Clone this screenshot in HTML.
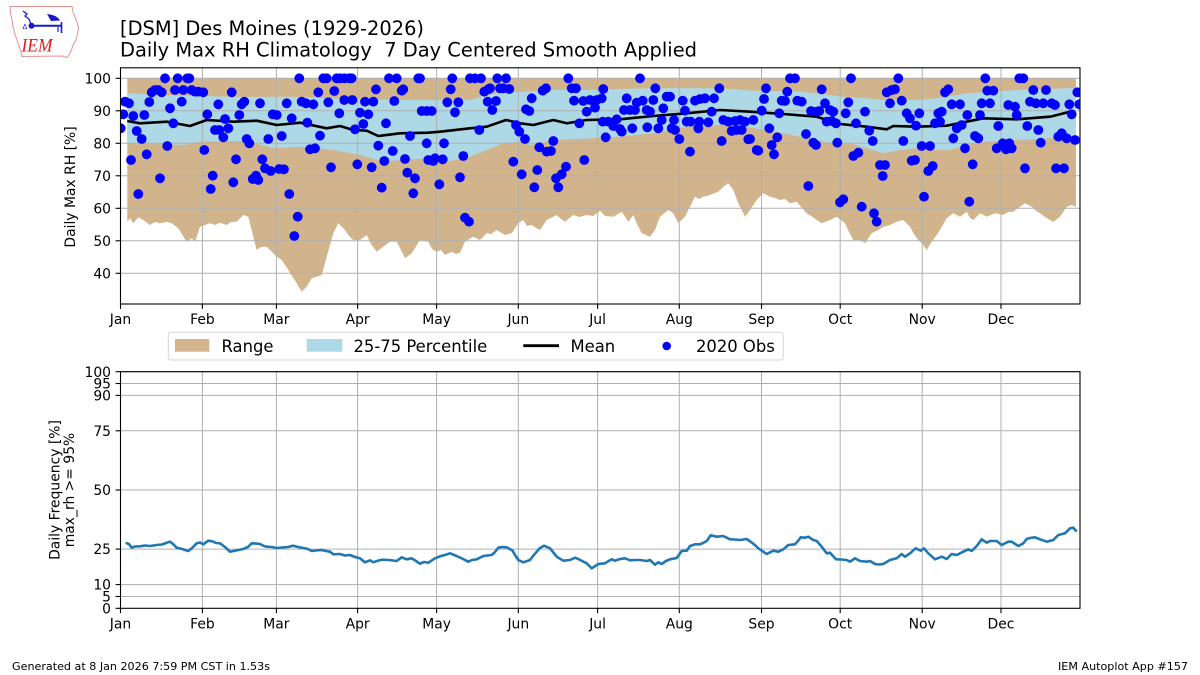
<!DOCTYPE html>
<html><head><meta charset="utf-8"><style>
html,body{margin:0;padding:0;background:#fff;}
svg{display:block;}
text{font-family:"DejaVu Sans","Liberation Sans",sans-serif;fill:#000;}
</style></head><body>
<svg width="1200" height="675" viewBox="0 0 1200 675" xmlns="http://www.w3.org/2000/svg">
<defs>
<clipPath id="c1"><rect x="120.5" y="67.8" width="959.5" height="236.2"/></clipPath>
<clipPath id="c2"><rect x="120.5" y="371.7" width="959.5" height="236.6"/></clipPath>
</defs>
<rect width="1200" height="675" fill="#fff"/>

<!-- logo -->
<g>
<path d="M10,6.5 L72,6.5 L73,12 L75,17 L77,22 L78.5,28 L77.5,34 L76,40 L73,45 L71.5,50 L69,55 L67,57.5 L62,56 L22,56.5 L21,52 L19,46 L17,40 L15,34 L13,27 L12,20 L10.5,13 Z" fill="none" stroke="#e89090" stroke-width="1"/>
<line x1="31.5" y1="25.7" x2="62" y2="25.7" stroke="#1a1acc" stroke-width="2"/>
<circle cx="31.5" cy="25.7" r="3" fill="#1a1acc"/>
<path d="M23,11 L27,14 L25,16 L29,19 L31.5,25.7" fill="none" stroke="#1a1acc" stroke-width="1.3"/>
<path d="M47,14 Q57,15 60,20.5 L51,21 Z" fill="#1a1acc"/>
<line x1="61.5" y1="22" x2="61.5" y2="33" stroke="#1a1acc" stroke-width="1.6"/>
<line x1="58" y1="27" x2="58" y2="32" stroke="#1a1acc" stroke-width="1.2"/>
<text x="22.5" y="29" font-size="7" style="fill:#1a1acc">ᐃ</text>
<text x="21.5" y="51.5" font-size="19" font-style="italic" style="font-family:'Liberation Serif',serif;fill:#d42020" textLength="31" lengthAdjust="spacingAndGlyphs">IEM</text>
</g>

<!-- titles -->
<text x="120" y="35" font-size="19.4" textLength="304" lengthAdjust="spacingAndGlyphs">[DSM] Des Moines (1929-2026)</text>
<text x="120" y="56.7" font-size="19.4" xml:space="preserve" textLength="577" lengthAdjust="spacingAndGlyphs">Daily Max RH Climatology  7 Day Centered Smooth Applied</text>

<!-- ===== TOP AXES ===== -->
<g clip-path="url(#c1)">
<path fill="#d2b48c" d="M127.3,78.3 L127.3,221.7 L130,218.3 L133.3,223.3 L138.3,217.3 L143.3,220 L150,225 L155,222 L160,223.3 L166.7,221.7 L171.7,223.3 L178.3,228.3 L183,236 L186.7,241.7 L191.7,238.3 L195,241.7 L200,226.7 L205,225 L210,223.3 L215,225 L220,222.7 L226.7,225 L231,222 L236.7,221.7 L243.3,215 L248.3,216.7 L253.3,236.7 L256.7,250 L261,247 L266.7,246.7 L271,251 L276.7,256.7 L281.7,260 L288.3,270 L292,276 L296.7,283.3 L301.7,291.7 L306.7,286.7 L311.7,278.3 L316,277 L321.7,275 L326.7,256.7 L333.3,233.3 L338.3,223.3 L345,230 L349,236 L353.3,240 L360,240 L366.7,235 L371,244 L376.7,251.7 L383.3,246.7 L390,241.7 L396.7,241.7 L401,250 L405,258.3 L411.7,253.3 L420,240 L428.3,241.7 L432,249 L436.7,251.7 L441,250 L445,255 L451.7,251.7 L456,254 L460,252.7 L465,241.7 L473.3,236.7 L480,240 L486.7,233.3 L491,234 L496.7,230 L505,235 L511.7,233.3 L518.3,223.3 L523.3,220 L527,226 L531.7,225 L536,228 L540,230 L546.7,220 L551,218 L556.7,215 L561,219 L565,221.7 L573.3,215 L579,217 L586.7,215 L593.3,216 L600,210.7 L605,216 L613.3,216.7 L621.7,211.7 L628.3,221.7 L633.3,215 L637,224 L641.7,233.3 L650,236.7 L655,230 L660,216.7 L668.3,210 L673.3,213.3 L678.3,223.3 L685,216.7 L690,206.7 L695,196.7 L699,199 L703.3,196.7 L710,195 L718.3,191.7 L723.3,186.7 L728.3,183.3 L733.3,190 L738.3,203.3 L745,216.7 L750,210 L756.7,200 L763.3,193.3 L770,196.7 L775,198 L780,200 L785,199 L790,203.3 L796.7,201.7 L801,207 L806.7,213.3 L811,216 L816.7,220 L821.7,223.3 L830,220 L836.7,216.7 L845,223.3 L849,232 L853.3,240 L860,240 L865,243.3 L871.7,233.3 L878.3,230 L883.3,226.7 L890,225 L896.7,221.7 L903.3,220 L910,226.7 L914,234 L918.3,240 L923.3,245 L926.7,250 L931.7,241.7 L936,236 L940,230 L946.7,218.3 L953.3,213.3 L960,216.7 L966.7,211.7 L970,218 L973.3,220 L980,213.3 L986.7,216.7 L995,213.3 L1003.3,215 L1008,212 L1013.3,211.7 L1020,206.7 L1025,203.3 L1031.7,206.7 L1036,211 L1040,213.3 L1046.7,218.3 L1053.3,221.7 L1060,216.7 L1066.7,206.7 L1071.7,205 L1076,206.7 L1076,78.3 Z"/>
<path fill="#add8e6" d="M127.3,93.3 L140,94 L160,95 L200,96 L240,97 L276.7,96.7 L300,97 L333,98.3 L357,99 L400,100 L420,100 L470,100 L486.7,95 L500,93 L520,91.7 L540,91 L553,90 L587,90 L620,89 L653,88.3 L720,88.3 L750,90.5 L800,91.7 L816.7,93.3 L843.3,96.7 L870,98.5 L883,100 L916.7,100 L936.7,98.3 L966.7,93.3 L1016.7,90 L1066.7,88.3 L1076,88.3 L1076,136.7 L1050,138.3 L1016.7,140 L983.3,141.7 L966.7,145 L950,150 L940,150 L916.7,148.3 L900,150 L883.3,153.3 L866.7,148.3 L850,143.3 L836.7,145 L816.7,140 L783.3,133.3 L750,127.5 L720,125 L686.7,126.7 L653.3,133.3 L620,136.7 L593.3,138.3 L570,139.3 L553.3,140 L530,145 L520,141.7 L503.3,143.3 L470,156.7 L440,163.3 L428.3,158.3 L400,160 L383.3,161.7 L360,155 L333.3,150 L300,146.7 L273.3,148.3 L250,141.7 L233.3,141 L200,141.7 L183.3,145 L150,143.3 L127.3,143.3 Z"/>
</g>
<!-- grid top -->
<g stroke="#b0b0b0" stroke-width="1">
<line x1="120.5" y1="78.3" x2="1080" y2="78.3"/>
<line x1="120.5" y1="110.8" x2="1080" y2="110.8"/>
<line x1="120.5" y1="143.3" x2="1080" y2="143.3"/>
<line x1="120.5" y1="175.8" x2="1080" y2="175.8"/>
<line x1="120.5" y1="208.3" x2="1080" y2="208.3"/>
<line x1="120.5" y1="240.8" x2="1080" y2="240.8"/>
<line x1="120.5" y1="273.3" x2="1080" y2="273.3"/>
<line x1="202.4" y1="67.8" x2="202.4" y2="304"/>
<line x1="276.4" y1="67.8" x2="276.4" y2="304"/>
<line x1="357.6" y1="67.8" x2="357.6" y2="304"/>
<line x1="436.6" y1="67.8" x2="436.6" y2="304"/>
<line x1="518.3" y1="67.8" x2="518.3" y2="304"/>
<line x1="597.6" y1="67.8" x2="597.6" y2="304"/>
<line x1="679.3" y1="67.8" x2="679.3" y2="304"/>
<line x1="761.5" y1="67.8" x2="761.5" y2="304"/>
<line x1="840.2" y1="67.8" x2="840.2" y2="304"/>
<line x1="922.2" y1="67.8" x2="922.2" y2="304"/>
<line x1="1001" y1="67.8" x2="1001" y2="304"/>
</g>
<g clip-path="url(#c1)">
<polyline fill="none" stroke="#000" stroke-width="2.6" stroke-linejoin="round" points="127.3,121 140,123.3 166.7,121.7 190,126 206.7,120 233.3,121.7 256.7,120.7 276.7,125 300,122.7 326.7,128.3 340,126 353.3,130 366.7,130.7 378.3,136 400,133.3 428.3,132.7 440,131.7 470,128.3 486.7,126.7 506,120 520,123.3 533.3,125 553.3,120 566.7,123.3 586.7,120 620,119.3 653.3,116 686.7,113.3 720,110 750,111.7 783.3,114 816.7,116.7 840,124 866.7,126.7 886.7,129.3 893.3,126 916.7,126.7 946.7,125.7 983.3,118.3 1016.7,119.3 1050,116.7 1070,111.7 1075,114.3"/>
<g fill="#0000ff">
<circle cx="120.7" cy="128.3" r="4.9"/><circle cx="123.3" cy="114.3" r="4.9"/><circle cx="125" cy="101.7" r="4.9"/><circle cx="129" cy="103.3" r="4.9"/>
<circle cx="131" cy="160" r="4.9"/><circle cx="133.3" cy="116" r="4.9"/><circle cx="136.7" cy="131" r="4.9"/><circle cx="138.3" cy="194" r="4.9"/><circle cx="141.7" cy="139" r="4.9"/><circle cx="144.3" cy="115" r="4.9"/><circle cx="146.7" cy="154.3" r="4.9"/><circle cx="149.3" cy="102" r="4.9"/><circle cx="151.7" cy="92.3" r="4.9"/><circle cx="155" cy="90" r="4.9"/><circle cx="158.3" cy="90" r="4.9"/><circle cx="161.7" cy="92.3" r="4.9"/><circle cx="160" cy="178.3" r="4.9"/><circle cx="165" cy="78.3" r="4.9"/><circle cx="167.3" cy="146" r="4.9"/><circle cx="170" cy="108.3" r="4.9"/><circle cx="173.3" cy="123.3" r="4.9"/><circle cx="175" cy="90" r="4.9"/><circle cx="177.7" cy="78.3" r="4.9"/><circle cx="183.3" cy="90" r="4.9"/><circle cx="181.7" cy="101.7" r="4.9"/><circle cx="187.3" cy="78.3" r="4.9"/><circle cx="189.3" cy="78.3" r="4.9"/><circle cx="191.7" cy="90" r="4.9"/><circle cx="195" cy="91.7" r="4.9"/><circle cx="198.3" cy="91.7" r="4.9"/><circle cx="203.3" cy="92.3" r="4.9"/><circle cx="204.3" cy="150" r="4.9"/><circle cx="207.3" cy="114.3" r="4.9"/><circle cx="210.7" cy="189" r="4.9"/><circle cx="212.7" cy="175.7" r="4.9"/><circle cx="215" cy="130" r="4.9"/><circle cx="219.3" cy="130" r="4.9"/><circle cx="218.3" cy="104.3" r="4.9"/><circle cx="223.3" cy="137.3" r="4.9"/><circle cx="225" cy="119" r="4.9"/><circle cx="228.3" cy="128.3" r="4.9"/><circle cx="231.7" cy="92.3" r="4.9"/><circle cx="233.3" cy="182.3" r="4.9"/><circle cx="236" cy="159.3" r="4.9"/><circle cx="239.3" cy="115" r="4.9"/><circle cx="241.7" cy="104.3" r="4.9"/><circle cx="244.3" cy="101.7" r="4.9"/><circle cx="246.7" cy="139" r="4.9"/><circle cx="249.3" cy="143.3" r="4.9"/><circle cx="252.7" cy="179" r="4.9"/><circle cx="256" cy="175.7" r="4.9"/><circle cx="258.3" cy="180" r="4.9"/><circle cx="260" cy="103.3" r="4.9"/><circle cx="262.3" cy="159.3" r="4.9"/><circle cx="265" cy="168.3" r="4.9"/><circle cx="270.7" cy="171" r="4.9"/><circle cx="268.3" cy="139" r="4.9"/><circle cx="272.7" cy="114.3" r="4.9"/><circle cx="276.7" cy="115" r="4.9"/><circle cx="279.3" cy="169" r="4.9"/><circle cx="284" cy="169.3" r="4.9"/><circle cx="281.7" cy="136" r="4.9"/><circle cx="286.7" cy="103.3" r="4.9"/><circle cx="289.3" cy="194" r="4.9"/><circle cx="291.7" cy="118.3" r="4.9"/><circle cx="297.7" cy="216.7" r="4.9"/><circle cx="294.3" cy="236" r="4.9"/><circle cx="299.3" cy="78.3" r="4.9"/><circle cx="301.7" cy="101.7" r="4.9"/><circle cx="306" cy="103.3" r="4.9"/><circle cx="307.3" cy="122.7" r="4.9"/><circle cx="310" cy="149.3" r="4.9"/><circle cx="315" cy="148.3" r="4.9"/><circle cx="313.3" cy="104.3" r="4.9"/><circle cx="318.3" cy="92.3" r="4.9"/><circle cx="320" cy="135.7" r="4.9"/><circle cx="323.3" cy="78.3" r="4.9"/><circle cx="326.7" cy="78.3" r="4.9"/><circle cx="328.3" cy="102.3" r="4.9"/><circle cx="331" cy="167.3" r="4.9"/><circle cx="334.3" cy="91" r="4.9"/><circle cx="336.7" cy="78.3" r="4.9"/><circle cx="340" cy="78.3" r="4.9"/><circle cx="344.3" cy="78.3" r="4.9"/><circle cx="349.3" cy="78.3" r="4.9"/><circle cx="351.7" cy="78.3" r="4.9"/><circle cx="339.3" cy="113.3" r="4.9"/><circle cx="344.3" cy="100" r="4.9"/><circle cx="352.3" cy="100" r="4.9"/><circle cx="355" cy="129.3" r="4.9"/><circle cx="357.3" cy="164.3" r="4.9"/><circle cx="360" cy="112.7" r="4.9"/><circle cx="368.3" cy="114.3" r="4.9"/><circle cx="363.3" cy="124" r="4.9"/><circle cx="365" cy="101.7" r="4.9"/><circle cx="373.3" cy="101.7" r="4.9"/><circle cx="371.7" cy="167.3" r="4.9"/><circle cx="376" cy="89.3" r="4.9"/><circle cx="378.3" cy="145.7" r="4.9"/><circle cx="381.7" cy="187.7" r="4.9"/><circle cx="384.3" cy="161" r="4.9"/><circle cx="386" cy="123.3" r="4.9"/><circle cx="389" cy="78.3" r="4.9"/><circle cx="396.7" cy="78.3" r="4.9"/><circle cx="392.7" cy="151" r="4.9"/><circle cx="394.3" cy="101" r="4.9"/><circle cx="401.7" cy="90.7" r="4.9"/><circle cx="403.3" cy="89.3" r="4.9"/><circle cx="405" cy="159" r="4.9"/><circle cx="407.3" cy="172.7" r="4.9"/><circle cx="415" cy="178.3" r="4.9"/><circle cx="410" cy="136" r="4.9"/><circle cx="413.3" cy="193.3" r="4.9"/><circle cx="418.3" cy="78.3" r="4.9"/><circle cx="421.7" cy="111" r="4.9"/><circle cx="426.7" cy="111" r="4.9"/><circle cx="426.7" cy="143.3" r="4.9"/><circle cx="428.3" cy="160" r="4.9"/>
<circle cx="420" cy="78.3" r="4.9"/><circle cx="431.7" cy="111" r="4.9"/><circle cx="433.3" cy="161" r="4.9"/><circle cx="435" cy="158.3" r="4.9"/><circle cx="442.7" cy="159.3" r="4.9"/><circle cx="439.3" cy="184.3" r="4.9"/><circle cx="444" cy="143.3" r="4.9"/><circle cx="447.3" cy="102.3" r="4.9"/><circle cx="458.3" cy="102.3" r="4.9"/><circle cx="450.7" cy="89.3" r="4.9"/><circle cx="452.3" cy="78.3" r="4.9"/><circle cx="455" cy="112.3" r="4.9"/><circle cx="460" cy="177.3" r="4.9"/><circle cx="463.3" cy="156" r="4.9"/><circle cx="465" cy="217.7" r="4.9"/><circle cx="469" cy="221.7" r="4.9"/><circle cx="470" cy="78.3" r="4.9"/><circle cx="475" cy="78.3" r="4.9"/><circle cx="481" cy="78.3" r="4.9"/><circle cx="479.3" cy="130" r="4.9"/><circle cx="484.3" cy="91.7" r="4.9"/><circle cx="488.3" cy="89.3" r="4.9"/><circle cx="490" cy="88.3" r="4.9"/><circle cx="487.7" cy="101.7" r="4.9"/><circle cx="496" cy="101" r="4.9"/><circle cx="492.3" cy="110" r="4.9"/><circle cx="497.3" cy="78.3" r="4.9"/><circle cx="506" cy="78.3" r="4.9"/><circle cx="500" cy="88.3" r="4.9"/><circle cx="503.3" cy="88.3" r="4.9"/><circle cx="509.3" cy="89" r="4.9"/><circle cx="513.3" cy="161.7" r="4.9"/><circle cx="516" cy="125" r="4.9"/><circle cx="519.3" cy="131.7" r="4.9"/><circle cx="521.7" cy="174.3" r="4.9"/><circle cx="525" cy="139" r="4.9"/><circle cx="526" cy="109.3" r="4.9"/><circle cx="529.3" cy="111" r="4.9"/><circle cx="531.7" cy="98.3" r="4.9"/><circle cx="534.3" cy="187.3" r="4.9"/><circle cx="537.3" cy="170" r="4.9"/><circle cx="539.3" cy="147.3" r="4.9"/><circle cx="542.7" cy="90.7" r="4.9"/><circle cx="546" cy="88.3" r="4.9"/><circle cx="546.7" cy="151.7" r="4.9"/><circle cx="551" cy="151" r="4.9"/><circle cx="553.3" cy="141" r="4.9"/><circle cx="556" cy="178.3" r="4.9"/><circle cx="558.3" cy="187.3" r="4.9"/><circle cx="561.7" cy="174.3" r="4.9"/><circle cx="566" cy="166.7" r="4.9"/><circle cx="568.3" cy="78.3" r="4.9"/><circle cx="571.7" cy="88.3" r="4.9"/><circle cx="576" cy="88.3" r="4.9"/><circle cx="574" cy="100.7" r="4.9"/><circle cx="583.3" cy="101" r="4.9"/><circle cx="590" cy="100" r="4.9"/><circle cx="596.7" cy="100" r="4.9"/><circle cx="601.7" cy="98.3" r="4.9"/><circle cx="579.3" cy="123.3" r="4.9"/><circle cx="584.3" cy="160" r="4.9"/><circle cx="586.7" cy="111.7" r="4.9"/><circle cx="595" cy="107.7" r="4.9"/><circle cx="603.3" cy="89" r="4.9"/><circle cx="602.7" cy="121.7" r="4.9"/><circle cx="608.3" cy="121.7" r="4.9"/><circle cx="605.7" cy="137.3" r="4.9"/><circle cx="613.3" cy="126" r="4.9"/><circle cx="620" cy="129" r="4.9"/><circle cx="621.7" cy="131.7" r="4.9"/><circle cx="616.7" cy="119.3" r="4.9"/><circle cx="624" cy="110" r="4.9"/><circle cx="630" cy="110" r="4.9"/><circle cx="635" cy="110" r="4.9"/><circle cx="626.7" cy="98.3" r="4.9"/><circle cx="632.3" cy="128.3" r="4.9"/><circle cx="636.7" cy="102.7" r="4.9"/><circle cx="642.7" cy="100.7" r="4.9"/><circle cx="640" cy="78.3" r="4.9"/><circle cx="646.7" cy="110" r="4.9"/><circle cx="650" cy="111.7" r="4.9"/><circle cx="647.3" cy="127.3" r="4.9"/><circle cx="653.3" cy="100" r="4.9"/><circle cx="655.3" cy="88.3" r="4.9"/><circle cx="658.3" cy="128.3" r="4.9"/><circle cx="661.7" cy="120" r="4.9"/><circle cx="663.3" cy="108.3" r="4.9"/><circle cx="666.7" cy="96.7" r="4.9"/><circle cx="670" cy="96.7" r="4.9"/><circle cx="671.7" cy="128.3" r="4.9"/><circle cx="675" cy="130" r="4.9"/><circle cx="674" cy="120" r="4.9"/><circle cx="679.3" cy="139" r="4.9"/><circle cx="682.7" cy="100.7" r="4.9"/><circle cx="685" cy="110.7" r="4.9"/><circle cx="686.7" cy="121.7" r="4.9"/><circle cx="690.7" cy="121.7" r="4.9"/><circle cx="690" cy="151.7" r="4.9"/><circle cx="695" cy="100.7" r="4.9"/><circle cx="700" cy="99" r="4.9"/><circle cx="705" cy="98.3" r="4.9"/><circle cx="714" cy="98.3" r="4.9"/><circle cx="698.3" cy="128.3" r="4.9"/><circle cx="699.3" cy="121.7" r="4.9"/><circle cx="708.3" cy="122.3" r="4.9"/><circle cx="711.7" cy="111.7" r="4.9"/><circle cx="719.3" cy="88.3" r="4.9"/><circle cx="721.7" cy="141" r="4.9"/><circle cx="723.3" cy="120" r="4.9"/><circle cx="728.3" cy="121.7" r="4.9"/><circle cx="731.7" cy="131" r="4.9"/><circle cx="736.7" cy="130" r="4.9"/><circle cx="741.7" cy="130" r="4.9"/><circle cx="735" cy="121" r="4.9"/><circle cx="740" cy="120" r="4.9"/><circle cx="745" cy="121.7" r="4.9"/><circle cx="748.3" cy="139.3" r="4.9"/>
<circle cx="750" cy="139" r="4.9"/><circle cx="753.3" cy="120" r="4.9"/><circle cx="756.7" cy="150" r="4.9"/><circle cx="758.3" cy="150.7" r="4.9"/><circle cx="761.7" cy="110.7" r="4.9"/><circle cx="764" cy="99" r="4.9"/><circle cx="766" cy="88.3" r="4.9"/><circle cx="769.3" cy="128.3" r="4.9"/><circle cx="771.7" cy="145" r="4.9"/><circle cx="774" cy="154.3" r="4.9"/><circle cx="777.3" cy="137.3" r="4.9"/><circle cx="779.3" cy="113.3" r="4.9"/><circle cx="781.7" cy="100.7" r="4.9"/><circle cx="785" cy="101" r="4.9"/><circle cx="787.3" cy="91.7" r="4.9"/><circle cx="790" cy="78.3" r="4.9"/><circle cx="795" cy="78.3" r="4.9"/><circle cx="797.3" cy="100.7" r="4.9"/><circle cx="801.7" cy="101.7" r="4.9"/><circle cx="806" cy="134" r="4.9"/><circle cx="808.3" cy="186" r="4.9"/><circle cx="811" cy="111" r="4.9"/><circle cx="816.7" cy="111.7" r="4.9"/><circle cx="819.3" cy="111" r="4.9"/><circle cx="813.3" cy="142.7" r="4.9"/><circle cx="816" cy="145" r="4.9"/><circle cx="821.7" cy="89.3" r="4.9"/><circle cx="825" cy="103.3" r="4.9"/><circle cx="826.7" cy="121.7" r="4.9"/><circle cx="831.7" cy="121" r="4.9"/><circle cx="830" cy="110" r="4.9"/><circle cx="833.3" cy="111.7" r="4.9"/><circle cx="836" cy="123.3" r="4.9"/><circle cx="837.3" cy="142.7" r="4.9"/><circle cx="840" cy="202.3" r="4.9"/><circle cx="843.3" cy="199.3" r="4.9"/><circle cx="845.7" cy="113.3" r="4.9"/><circle cx="848.3" cy="102.3" r="4.9"/><circle cx="851" cy="78.3" r="4.9"/><circle cx="853.3" cy="156" r="4.9"/><circle cx="858.3" cy="152.7" r="4.9"/><circle cx="856" cy="123.3" r="4.9"/><circle cx="861.7" cy="206.7" r="4.9"/><circle cx="865" cy="111.7" r="4.9"/><circle cx="869.3" cy="130.7" r="4.9"/><circle cx="872.7" cy="141" r="4.9"/><circle cx="874" cy="213.3" r="4.9"/><circle cx="876.7" cy="221.7" r="4.9"/><circle cx="880" cy="165" r="4.9"/><circle cx="885" cy="165" r="4.9"/><circle cx="882.7" cy="176" r="4.9"/><circle cx="886.7" cy="92.3" r="4.9"/><circle cx="891.7" cy="90" r="4.9"/><circle cx="895" cy="89.3" r="4.9"/><circle cx="890" cy="103.3" r="4.9"/><circle cx="898.3" cy="78.3" r="4.9"/><circle cx="901.7" cy="100.7" r="4.9"/><circle cx="903.3" cy="141" r="4.9"/><circle cx="906.7" cy="113.3" r="4.9"/><circle cx="910" cy="118.3" r="4.9"/><circle cx="911.7" cy="160.7" r="4.9"/><circle cx="915" cy="160" r="4.9"/><circle cx="916" cy="125.7" r="4.9"/><circle cx="919.3" cy="113.3" r="4.9"/><circle cx="921.7" cy="146" r="4.9"/><circle cx="930" cy="146" r="4.9"/><circle cx="924" cy="196.7" r="4.9"/><circle cx="928.3" cy="171" r="4.9"/><circle cx="932.7" cy="166" r="4.9"/><circle cx="935" cy="123.3" r="4.9"/><circle cx="940" cy="121.7" r="4.9"/><circle cx="938.3" cy="113.3" r="4.9"/><circle cx="941.7" cy="111.7" r="4.9"/><circle cx="945" cy="92.3" r="4.9"/><circle cx="948.3" cy="89.3" r="4.9"/><circle cx="951.7" cy="104.3" r="4.9"/><circle cx="960" cy="104.3" r="4.9"/><circle cx="953.3" cy="138.3" r="4.9"/><circle cx="956.7" cy="128.3" r="4.9"/><circle cx="961.7" cy="125" r="4.9"/><circle cx="965" cy="148.3" r="4.9"/><circle cx="967.3" cy="115" r="4.9"/><circle cx="969.3" cy="201.7" r="4.9"/><circle cx="972.7" cy="164.3" r="4.9"/><circle cx="975" cy="136" r="4.9"/><circle cx="978.3" cy="138.3" r="4.9"/><circle cx="980" cy="115" r="4.9"/><circle cx="981.7" cy="103.3" r="4.9"/><circle cx="990" cy="103.3" r="4.9"/><circle cx="985.3" cy="78.3" r="4.9"/><circle cx="987.3" cy="90.7" r="4.9"/><circle cx="993.3" cy="90.7" r="4.9"/><circle cx="996.7" cy="148.3" r="4.9"/><circle cx="1002.7" cy="143.3" r="4.9"/><circle cx="1006" cy="149.3" r="4.9"/><circle cx="1011.7" cy="148.3" r="4.9"/><circle cx="1009.3" cy="143.3" r="4.9"/><circle cx="998.3" cy="126" r="4.9"/><circle cx="1008.3" cy="105" r="4.9"/><circle cx="1015" cy="106.7" r="4.9"/><circle cx="1016.7" cy="115" r="4.9"/><circle cx="1019.3" cy="78.3" r="4.9"/><circle cx="1023.3" cy="78.3" r="4.9"/><circle cx="1025" cy="168.3" r="4.9"/><circle cx="1027.3" cy="126" r="4.9"/><circle cx="1030" cy="101.7" r="4.9"/><circle cx="1036" cy="103.3" r="4.9"/><circle cx="1043.3" cy="103.3" r="4.9"/><circle cx="1051.7" cy="103.3" r="4.9"/><circle cx="1055" cy="105" r="4.9"/><circle cx="1033.3" cy="90" r="4.9"/><circle cx="1046" cy="90" r="4.9"/><circle cx="1038.3" cy="130" r="4.9"/><circle cx="1040.7" cy="142.7" r="4.9"/><circle cx="1056" cy="168.3" r="4.9"/><circle cx="1064" cy="168.3" r="4.9"/><circle cx="1058.3" cy="136.7" r="4.9"/><circle cx="1061.7" cy="133.3" r="4.9"/><circle cx="1066.7" cy="138.3" r="4.9"/><circle cx="1075" cy="140" r="4.9"/><circle cx="1069.3" cy="104.3" r="4.9"/><circle cx="1071.7" cy="114.3" r="4.9"/><circle cx="1077.3" cy="92.3" r="4.9"/><circle cx="1079.3" cy="104.3" r="4.9"/>
</g>
</g>
<!-- top spines & ticks -->
<rect x="120.5" y="67.8" width="959.5" height="236.2" fill="none" stroke="#000" stroke-width="1.1"/>
<g stroke="#000" stroke-width="1.1">
<line x1="115.6" y1="78.3" x2="120.5" y2="78.3"/><line x1="115.6" y1="110.8" x2="120.5" y2="110.8"/><line x1="115.6" y1="143.3" x2="120.5" y2="143.3"/><line x1="115.6" y1="175.8" x2="120.5" y2="175.8"/><line x1="115.6" y1="208.3" x2="120.5" y2="208.3"/><line x1="115.6" y1="240.8" x2="120.5" y2="240.8"/><line x1="115.6" y1="273.3" x2="120.5" y2="273.3"/>
<line x1="120.5" y1="304" x2="120.5" y2="308.9"/><line x1="202.4" y1="304" x2="202.4" y2="308.9"/><line x1="276.4" y1="304" x2="276.4" y2="308.9"/><line x1="357.6" y1="304" x2="357.6" y2="308.9"/><line x1="436.6" y1="304" x2="436.6" y2="308.9"/><line x1="518.3" y1="304" x2="518.3" y2="308.9"/><line x1="597.6" y1="304" x2="597.6" y2="308.9"/><line x1="679.3" y1="304" x2="679.3" y2="308.9"/><line x1="761.5" y1="304" x2="761.5" y2="308.9"/><line x1="840.2" y1="304" x2="840.2" y2="308.9"/><line x1="922.2" y1="304" x2="922.2" y2="308.9"/><line x1="1001" y1="304" x2="1001" y2="308.9"/>
</g>
<g font-size="13.9" text-anchor="end">
<text x="111" y="83.4">100</text><text x="111" y="115.9">90</text><text x="111" y="148.4">80</text><text x="111" y="180.9">70</text><text x="111" y="213.4">60</text><text x="111" y="245.9">50</text><text x="111" y="278.4">40</text>
</g>
<g font-size="13.9" text-anchor="middle">
<text x="120.5" y="324">Jan</text><text x="202.4" y="324">Feb</text><text x="276.4" y="324">Mar</text><text x="357.6" y="324">Apr</text><text x="436.6" y="324">May</text><text x="518.3" y="324">Jun</text><text x="597.6" y="324">Jul</text><text x="679.3" y="324">Aug</text><text x="761.5" y="324">Sep</text><text x="840.2" y="324">Oct</text><text x="922.2" y="324">Nov</text><text x="1001" y="324">Dec</text>
</g>
<text font-size="13.9" text-anchor="middle" transform="translate(75,187) rotate(-90)">Daily Max RH [%]</text>

<!-- legend -->
<rect x="168.3" y="332.3" width="615" height="27.7" rx="3" fill="#fff" stroke="#d6d6d6" stroke-width="1"/>
<rect x="175" y="339" width="34.3" height="12.7" fill="#d2b48c"/>
<rect x="306.7" y="339" width="35.6" height="12.7" fill="#add8e6"/>
<line x1="523.3" y1="345.7" x2="559" y2="345.7" stroke="#000" stroke-width="2.8"/>
<circle cx="666.7" cy="346" r="4.3" fill="#0000ff"/>
<g font-size="16.4">
<text x="221.5" y="351.8">Range</text>
<text x="353.5" y="351.8">25-75 Percentile</text>
<text x="570.5" y="351.8">Mean</text>
<text x="696" y="351.8">2020 Obs</text>
</g>

<!-- ===== BOTTOM AXES ===== -->
<g stroke="#b0b0b0" stroke-width="1">
<line x1="120.5" y1="371.7" x2="1080" y2="371.7"/>
<line x1="120.5" y1="383.5" x2="1080" y2="383.5"/>
<line x1="120.5" y1="395.4" x2="1080" y2="395.4"/>
<line x1="120.5" y1="430.8" x2="1080" y2="430.8"/>
<line x1="120.5" y1="490" x2="1080" y2="490"/>
<line x1="120.5" y1="549.1" x2="1080" y2="549.1"/>
<line x1="120.5" y1="584.6" x2="1080" y2="584.6"/>
<line x1="120.5" y1="596.5" x2="1080" y2="596.5"/>
<line x1="202.4" y1="371.7" x2="202.4" y2="608.3"/>
<line x1="276.4" y1="371.7" x2="276.4" y2="608.3"/>
<line x1="357.6" y1="371.7" x2="357.6" y2="608.3"/>
<line x1="436.6" y1="371.7" x2="436.6" y2="608.3"/>
<line x1="518.3" y1="371.7" x2="518.3" y2="608.3"/>
<line x1="597.6" y1="371.7" x2="597.6" y2="608.3"/>
<line x1="679.3" y1="371.7" x2="679.3" y2="608.3"/>
<line x1="761.5" y1="371.7" x2="761.5" y2="608.3"/>
<line x1="840.2" y1="371.7" x2="840.2" y2="608.3"/>
<line x1="922.2" y1="371.7" x2="922.2" y2="608.3"/>
<line x1="1001" y1="371.7" x2="1001" y2="608.3"/>
</g>
<g clip-path="url(#c2)">
<polyline fill="none" stroke="#1f77b4" stroke-width="2.6" stroke-linejoin="round" stroke-linecap="round" points="126.7,543.3 129,544 131.7,547.7 135,546.5 140,546.3 145,545.5 150,546 156.7,545 162,544.5 166,543 170,541.7 173,544 176.7,547.7 182,549 188.3,551 192,548 196.7,543.3 200,542.5 203.3,544.3 208.3,540.7 213,541.5 216,543 220,543.3 225,547 230,551.7 236,550.5 243.3,549 248,547 251.7,543.3 256,543.5 260,544 264,546 266.7,546.7 272,547 276.7,548 282,547.5 288,547 293.3,545.7 298,547 303.3,548 308,549 311.7,551 316,550.5 321.7,550 326,551 330,551.7 333.3,554.3 340,554 345,555.5 350,555 355,557 360,558.3 365,562.3 370,560.3 373.3,562.3 377,561 381.7,559.7 389,560 396.7,561 401.7,557.3 406.7,559.3 411.7,558.3 416,561 420,563.7 424,562 428.3,562.7 435,558.3 441,556 445,555 450,553.3 456.7,556 462,558.5 468.3,561.7 472,560 476.7,559.3 483.3,556 491.7,555 495,552 498.3,547.7 502,547 506.7,547.3 512.7,550.7 515,555 518.3,560 523.3,562.3 530,560 533,556 536.7,551.7 540,548 544,545.7 550,548.3 553,552 556.7,556.7 563.3,560.7 570,560 575,557.7 578.3,559 582,561 586.7,563.3 591.7,568.3 598.3,564 605,563.3 611.7,559.3 615,560.7 620,559 625,558.3 630,560.3 635,560 640,560 646.7,561 650,560 655,564.7 658.3,562.3 661.7,564 666,561 670,559.3 676.7,558 681.7,551 686.7,550.7 690,546 695,544.3 700,544.3 703,543 706.7,541 710.7,535.3 716.7,536.7 723.3,536 730,539.3 735,539.5 740,540 746.7,539 751,542 755,545 758,548 761.7,550.7 766.7,554 773.3,550.7 778.3,551.7 783.3,549.3 788.3,545 795,544.3 798,541 800.7,537.3 805,537.7 808.3,536.7 813.3,540 816.7,541 821.7,546.7 826.7,553.3 830,552.7 836,559.3 841,559.5 846.7,560 850,561.7 855,558.3 860,561 866.7,561.7 870,561 875,564 879,564.5 883.3,564 890,560 896.7,558.3 901.7,554 905,556.7 910,553.3 915.7,548.3 920.7,550.7 924,548.3 928.3,553.3 935,559.3 941.7,556.7 946.7,559 951.7,554 956.7,555 963.3,551.7 968.3,549.3 971.7,551 976.7,546 981.7,539.3 986.7,542.7 990,541 996.7,541 1001.7,545 1008.3,541.7 1011.7,541.7 1018.3,546 1023.3,543.3 1026.7,539 1030,538 1035,537.3 1040,539.3 1046.7,541.7 1053.3,540 1058.3,535 1065,533.3 1070,528.3 1073.3,527.7 1076,530.7"/>
</g>
<rect x="120.5" y="371.7" width="959.5" height="236.6" fill="none" stroke="#000" stroke-width="1.1"/>
<g stroke="#000" stroke-width="1.1">
<line x1="115.6" y1="371.7" x2="120.5" y2="371.7"/><line x1="115.6" y1="383.5" x2="120.5" y2="383.5"/><line x1="115.6" y1="395.4" x2="120.5" y2="395.4"/><line x1="115.6" y1="430.8" x2="120.5" y2="430.8"/><line x1="115.6" y1="490" x2="120.5" y2="490"/><line x1="115.6" y1="549.1" x2="120.5" y2="549.1"/><line x1="115.6" y1="584.6" x2="120.5" y2="584.6"/><line x1="115.6" y1="596.5" x2="120.5" y2="596.5"/><line x1="115.6" y1="608.3" x2="120.5" y2="608.3"/>
<line x1="120.5" y1="608.3" x2="120.5" y2="613.2"/><line x1="202.4" y1="608.3" x2="202.4" y2="613.2"/><line x1="276.4" y1="608.3" x2="276.4" y2="613.2"/><line x1="357.6" y1="608.3" x2="357.6" y2="613.2"/><line x1="436.6" y1="608.3" x2="436.6" y2="613.2"/><line x1="518.3" y1="608.3" x2="518.3" y2="613.2"/><line x1="597.6" y1="608.3" x2="597.6" y2="613.2"/><line x1="679.3" y1="608.3" x2="679.3" y2="613.2"/><line x1="761.5" y1="608.3" x2="761.5" y2="613.2"/><line x1="840.2" y1="608.3" x2="840.2" y2="613.2"/><line x1="922.2" y1="608.3" x2="922.2" y2="613.2"/><line x1="1001" y1="608.3" x2="1001" y2="613.2"/>
</g>
<g font-size="13.9" text-anchor="end">
<text x="111" y="376.8">100</text><text x="111" y="388.6">95</text><text x="111" y="400.5">90</text><text x="111" y="435.9">75</text><text x="111" y="495.1">50</text><text x="111" y="554.2">25</text><text x="111" y="589.7">10</text><text x="111" y="601.6">5</text><text x="111" y="613.4">0</text>
</g>
<g font-size="13.9" text-anchor="middle">
<text x="120.5" y="628.3">Jan</text><text x="202.4" y="628.3">Feb</text><text x="276.4" y="628.3">Mar</text><text x="357.6" y="628.3">Apr</text><text x="436.6" y="628.3">May</text><text x="518.3" y="628.3">Jun</text><text x="597.6" y="628.3">Jul</text><text x="679.3" y="628.3">Aug</text><text x="761.5" y="628.3">Sep</text><text x="840.2" y="628.3">Oct</text><text x="922.2" y="628.3">Nov</text><text x="1001" y="628.3">Dec</text>
</g>
<text font-size="13.9" text-anchor="middle" transform="translate(59.5,490) rotate(-90)">Daily Frequency [%]</text>
<text font-size="13.9" text-anchor="middle" transform="translate(74,490) rotate(-90)">max_rh &gt;= 95%</text>

<!-- footer -->
<text x="12" y="670" font-size="11" textLength="258" lengthAdjust="spacingAndGlyphs">Generated at 8 Jan 2026 7:59 PM CST in 1.53s</text>
<text x="1188" y="670" font-size="11" text-anchor="end" textLength="130" lengthAdjust="spacingAndGlyphs">IEM Autoplot App #157</text>
</svg>
</body></html>
